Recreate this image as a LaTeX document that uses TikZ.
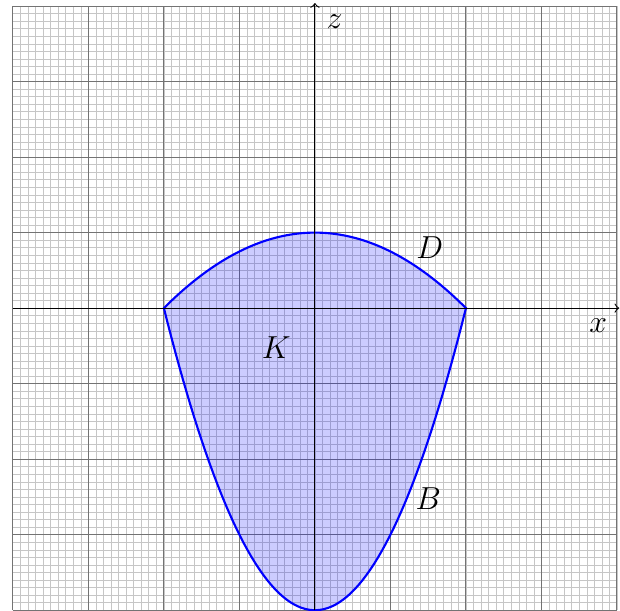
\documentclass[tikz,border=0pt]{standalone}
\usepackage{amsmath, amssymb}
\usepackage{xcolor}
\usepackage{tikz}
\usetikzlibrary{arrows, positioning, calc}

\begin{document}
\begin{tikzpicture}[
        finegrid/.style={draw=gray!45, very thin},
        coarsegrid/.style={draw=gray!90!black, thin},
        axis/.style={draw=black, ->},
        region/.style={draw=blue, thick, fill=blue, fill opacity=0.2},
        lbl/.style={inner sep=1pt, font=\large}]

        \useasboundingbox (-4.17,-4.0) rectangle (4.04,4.08);

        \draw[finegrid, step=0.1] (-4,-4) grid (4,4);
        \draw[coarsegrid, step=1] (-4,-4) grid (4,4);

        \draw[region] plot[domain=-2:2, samples=80] (\x, {\x*\x-4})
            -- plot[domain=2:-2, samples=80] (\x, {1-\x*\x/4}) -- cycle;

        \coordinate (xstart) at (-4,0);
        \coordinate (xend) at (4.03,0);
        \coordinate (zstart) at (0,-4);
        \coordinate (zend) at (0,4.04);
        \draw[axis] (xstart) -- (xend);
        \draw[axis] (zstart) -- (zend);

        \node [lbl] (xlab) at (3.75,-0.23) {$x$};
        \node [lbl] (zlab) at (0.26,3.8) {$z$};
        \node [lbl] (dlab) at (1.52,0.8) {$D$};
        \node [lbl] (klab) at (-0.51,-0.52) {$K$};
        \node [lbl] (blab) at (1.5,-2.52) {$B$};
    \end{tikzpicture}
\end{document}
